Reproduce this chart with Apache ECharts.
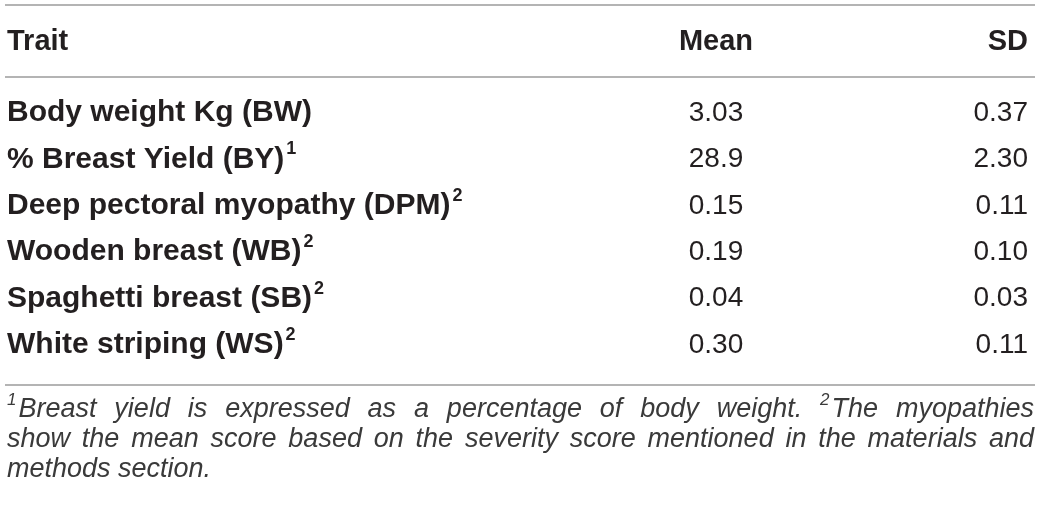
<!DOCTYPE html>
<html>
<head>
<meta charset="utf-8">
<script src="https://cdn.jsdelivr.net/npm/echarts@6/dist/echarts.min.js"></script>
<style>
  html, body { margin: 0; padding: 0; background: #fff; }
  #table { width: 1041px; height: 508px; }
</style>
</head>
<body>
<div id="table"></div>
<script>
// table contents
var headers = ['Trait', 'Mean', 'SD'];
var traits = ['Body weight Kg (BW)', '% Breast Yield (BY)', 'Deep pectoral myopathy (DPM)',
              'Wooden breast (WB)', 'Spaghetti breast (SB)', 'White striping (WS)'];
var traitNotes = ['', '1', '2', '2', '2', '2'];
var means = ['3.03', '28.9', '0.15', '0.19', '0.04', '0.30'];
var sds = ['0.37', '2.30', '0.11', '0.10', '0.03', '0.11'];
// footnote lines, "^n" marks a superscript note number
var noteLines = [
    '^1Breast yield is expressed as a percentage of body weight. ^2The myopathies',
    'show the mean score based on the severity score mentioned in the materials and',
    'methods section.'
];

window.addEventListener('load', function(){
    var chart = echarts.init(document.getElementById('table'), null, {renderer: 'canvas'});
    var FAM = '"Liberation Sans", Arial, Helvetica, sans-serif';
    var headFont = 'bold 29px ' + FAM;
    var boldFont = 'bold 30px ' + FAM;
    var numFont = '28px ' + FAM;
    var supFont = 'bold 18px ' + FAM;
    var noteFont = 'italic 27px ' + FAM;
    var noteSupFont = 'italic 17px ' + FAM;
    var ink = '#231f20';
    var noteInk = '#3a3a3a';

    var cv = document.createElement('canvas').getContext('2d');
    function w(txt, font){ cv.font = font; return cv.measureText(txt).width; }

    var left = 7, right = 1034;
    var meanX = 716, sdX = 1028;
    var headY = 42, rowY0 = 113, rowStep = 46.4;
    var els = [];

    // rules
    [5, 77, 385].forEach(function(y){
        els.push({type: 'line', shape: {x1: 5, y1: y, x2: 1035, y2: y},
                  style: {stroke: '#9b9b9b', lineWidth: 1.5}});
    });

    function text(t, x, y, font, align){
        els.push({type: 'text', style: {text: t, x: x, y: y, font: font, fill: ink,
                  align: align || 'left', verticalAlign: 'middle'}});
    }

    // header
    text(headers[0], left, headY, headFont);
    text(headers[1], meanX, headY, headFont, 'center');
    text(headers[2], sdX, headY, headFont, 'right');

    // rows
    for (var i = 0; i < traits.length; i++) {
        var y = rowY0 + i * rowStep;
        text(traits[i], left, y, boldFont);
        if (traitNotes[i]) {
            text(traitNotes[i], left + w(traits[i], boldFont) + 2, y - 10, supFont);
        }
        text(means[i], meanX, y, numFont, 'center');
        text(sds[i], sdX, y, numFont, 'right');
    }

    // footnote, first lines justified
    var noteY0 = 409, noteStep = 30;
    for (var k = 0; k < noteLines.length; k++) {
        var words = noteLines[k].split(' ');
        var items = words.map(function(wd){
            var sup = '', body = wd;
            if (wd.charAt(0) === '^') { sup = wd.charAt(1); body = wd.slice(2); }
            var sw = sup ? w(sup, noteSupFont) + 2 : 0;
            return {sup: sup, body: body, sw: sw, width: sw + w(body, noteFont)};
        });
        var total = items.reduce(function(a, b){ return a + b.width; }, 0);
        var last = k === noteLines.length - 1;
        var gap = last ? w(' ', noteFont) : (right - left - total) / (items.length - 1);
        var x = left, yy = noteY0 + k * noteStep;
        items.forEach(function(it){
            if (it.sup) {
                els.push({type: 'text', style: {text: it.sup, x: x, y: yy - 9, font: noteSupFont,
                          fill: noteInk, align: 'left', verticalAlign: 'middle'}});
            }
            els.push({type: 'text', style: {text: it.body, x: x + it.sw, y: yy, font: noteFont,
                      fill: noteInk, align: 'left', verticalAlign: 'middle'}});
            x += it.width + gap;
        });
    }

    chart.setOption({
        backgroundColor: '#fff',
        animation: false,
        graphic: els
    });
});
</script>
</body>
</html>
